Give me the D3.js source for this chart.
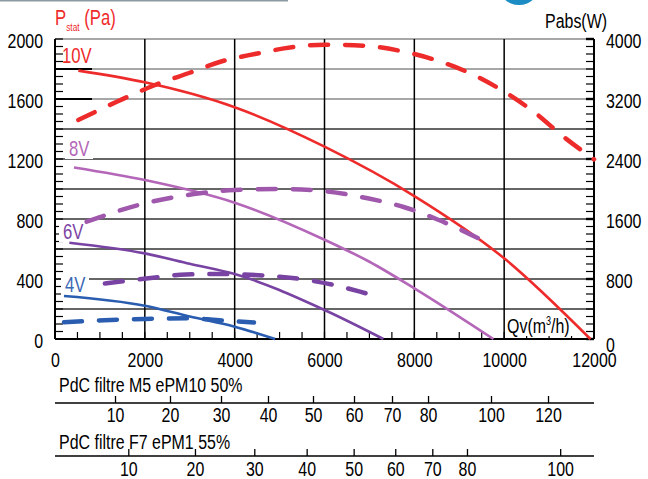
<!DOCTYPE html>
<html>
<head>
<meta charset="utf-8">
<script src="https://cdn.jsdelivr.net/npm/d3@7"></script>
<style>
  body { margin: 0; background: #fff; }
  text { font-family: "Liberation Sans", Arial, sans-serif; }
</style>
</head>
<body>
<svg id="chart" width="648" height="479"></svg>
<script>
// axes ticks
const flowTicks = [0, 2000, 4000, 6000, 8000, 10000, 12000];
const pTicks = [0, 400, 800, 1200, 1600, 2000];
const wTicks = [0, 800, 1600, 2400, 3200, 4000];

// static pressure curves (Pa) vs flow (m3/h)
const q10 = [520, 2000, 4000, 6000, 8000, 10000, 11920];
const p10 = [1789, 1711, 1545, 1282, 953, 538, 0];
const q8 = [423, 2000, 4000, 6000, 7000, 8000, 9760];
const p8 = [1144, 1060, 909, 662, 515, 338, 0];
const q6 = [320, 2000, 3000, 4000, 6000, 7310];
const p6 = [642, 571, 502, 433, 193, 0];
const q4 = [200, 2000, 3000, 4000, 4900];
const p4 = [287, 222, 150, 82, 0];

// absorbed power curves (W)
const qw10 = [520, 1400, 2200, 3000, 3700, 4450, 5270, 6000, 6900, 7700, 8470, 9400, 10000, 10700, 11300, 12000];
const w10 = [2920, 3170, 3380, 3550, 3700, 3800, 3890, 3925, 3910, 3840, 3720, 3498, 3298, 3010, 2707, 2396];
const qw8 = [705, 2000, 3229, 4000, 5000, 5900, 6960, 7760, 8530, 9430];
const w8 = [1564, 1809, 1943, 1987, 2000, 1978, 1876, 1760, 1590, 1342];
const qw6 = [1110, 2080, 2920, 3710, 4530, 5340, 6160, 6790, 7130];
const w6 = [740, 810, 860, 866, 850, 810, 726, 631, 573];
const qw4 = [200, 1100, 2000, 3000, 3600, 4430];
const w4 = [222, 250, 267, 276, 252, 220];

// filter pressure drop scales (Pa -> flow)
const m5Ticks = [10, 20, 30, 40, 50, 60, 70, 80, 100, 120];
const m5Flow = [1336, 2560, 3696, 4742, 5744, 6657, 7503, 8305, 9707, 10976];
const f7Ticks = [10, 20, 30, 40, 50, 60, 70, 80, 100];
const f7Flow = [1632, 3116, 4437, 5603, 6649, 7575, 8400, 9172, 11247];

const svg = d3.select("#chart");

const x = d3.scaleLinear().domain([0, 12000]).range([55, 594]);
const y = d3.scaleLinear().domain([0, 2000]).range([339, 39]);
const yW = d3.scaleLinear().domain([0, 4000]).range([339, 39]);

const fs = 21;
const K = 0.76; // horizontal squeeze to get a condensed look

function narrow(sel) {
  sel.each(function () {
    const t = d3.select(this);
    const x0 = +t.attr("x") || 0;
    t.attr("x", x0 / K).attr("transform", `scale(${K},1)`);
  });
}

// header decoration
svg.append("line").attr("x1", 0).attr("x2", 288).attr("y1", 0.5).attr("y2", 0.5)
  .attr("stroke", "#8c9ba1").attr("stroke-width", 2);
svg.append("circle").attr("cx", 519).attr("cy", -16).attr("r", 21).attr("fill", "#1b8cc4");

// grid
svg.append("g").selectAll("line")
  .data(d3.range(200, 2001, 200))
  .join("line")
  .attr("x1", x(0)).attr("x2", x(12000))
  .attr("y1", d => y(d)).attr("y2", d => y(d))
  .attr("stroke", d => d >= 1600 ? "#8a8a8a" : "#333")
  .attr("stroke-width", 1.6);
svg.append("g").selectAll("line")
  .data([1800, 1600])
  .join("line")
  .attr("x1", x(0)).attr("x2", 92)
  .attr("y1", d => y(d)).attr("y2", d => y(d))
  .attr("stroke", "#000").attr("stroke-width", 2);
svg.append("g").selectAll("line")
  .data(d3.range(2000, 12001, 2000))
  .join("line")
  .attr("x1", d => x(d)).attr("x2", d => x(d))
  .attr("y1", y(0)).attr("y2", y(2000))
  .attr("stroke", "#000").attr("stroke-width", 1.5);

// minor ticks
svg.append("g").selectAll("line")
  .data(d3.range(0, 2001, 50))
  .join("line")
  .attr("x1", x(0)).attr("x2", x(0) + 8)
  .attr("y1", d => y(d)).attr("y2", d => y(d))
  .attr("stroke", "#000").attr("stroke-width", 1.2);
svg.append("g").selectAll("line")
  .data(d3.range(0, 4001, 100))
  .join("line")
  .attr("x1", x(12000) - 8).attr("x2", x(12000))
  .attr("y1", d => yW(d)).attr("y2", d => yW(d))
  .attr("stroke", "#000").attr("stroke-width", d => d % 800 == 0 ? 2.4 : 1.2);
svg.append("g").selectAll("line")
  .data(d3.range(0, 12001, 500))
  .join("line")
  .attr("x1", d => x(d)).attr("x2", d => x(d))
  .attr("y1", y(0)).attr("y2", y(0) - 7)
  .attr("stroke", "#000").attr("stroke-width", 1.2);

// frame
svg.append("line").attr("x1", x(0)).attr("x2", x(0)).attr("y1", y(0)).attr("y2", y(2000))
  .attr("stroke", "#000").attr("stroke-width", 2);
svg.append("line").attr("x1", x(12000)).attr("x2", x(12000)).attr("y1", y(0)).attr("y2", y(2000))
  .attr("stroke", "#000").attr("stroke-width", 2);
svg.append("line").attr("x1", x(0)).attr("x2", x(12000)).attr("y1", y(0)).attr("y2", y(0))
  .attr("stroke", "#000").attr("stroke-width", 2);

// axes labels
const fmt = d3.format("d");
const xAxis = svg.append("g")
  .attr("transform", `translate(0,${y(0)})`)
  .call(d3.axisBottom(x).tickValues(flowTicks).tickFormat(fmt).tickSize(0).tickPadding(13));
const yAxis = svg.append("g")
  .attr("transform", `translate(${x(0)},0)`)
  .call(d3.axisLeft(y).tickValues(pTicks).tickFormat(fmt).tickSize(0).tickPadding(12));
const wAxis = svg.append("g")
  .attr("transform", `translate(${x(12000)},0)`)
  .call(d3.axisRight(yW).tickValues(wTicks).tickFormat(fmt).tickSize(0).tickPadding(12));
[xAxis, yAxis, wAxis].forEach(g => {
  g.select(".domain").remove();
  g.selectAll("text").attr("font-size", fs).attr("fill", "#000");
  narrow(g.selectAll("text"));
});
yAxis.selectAll("text").attr("dy", "0.4em");
wAxis.selectAll("text").attr("dy", "0.4em");
wAxis.selectAll("text").filter(d => d == 0).attr("dy", "0.6em");

// Qv label
svg.append("rect").attr("x", 505).attr("y", 314).attr("width", 72).attr("height", 22).attr("fill", "#fff");
const qv = svg.append("text").attr("x", 507).attr("y", 333).attr("font-size", fs).attr("fill", "#000");
qv.append("tspan").text("Qv(m");
qv.append("tspan").text("3").attr("font-size", 12).attr("dy", -8);
qv.append("tspan").text("/h)").attr("dy", 8);
narrow(qv);

// curve labels
const labels = [
  { t: "10V", x: 62, y: 63, c: "#ee2b2b" },
  { t: "8V", x: 69, y: 156, c: "#b466b8" },
  { t: "6V", x: 63, y: 239, c: "#7d45a5" },
  { t: "4V", x: 65, y: 292, c: "#3d68b6" }
];
labels.slice(1).forEach(l => {
  svg.append("rect").attr("x", l.x - 4).attr("y", l.y - 18).attr("width", 28).attr("height", 21).attr("fill", "#fff");
});
labels.forEach(l => {
  const t = svg.append("text").attr("x", l.x).attr("y", l.y).attr("font-size", 22).attr("fill", l.c).text(l.t);
  narrow(t);
});

// curves
const line = d3.line().curve(d3.curveMonotoneX);
const series = [
  { q: q10, v: p10, s: y, c: "#ee2b2b", dash: false },
  { q: q8, v: p8, s: y, c: "#b466b8", dash: false },
  { q: q6, v: p6, s: y, c: "#7843a2", dash: false },
  { q: q4, v: p4, s: y, c: "#2a5cb0", dash: false },
  { q: qw10, v: w10, s: yW, c: "#ee2b2b", dash: true },
  { q: qw8, v: w8, s: yW, c: "#a058ac", dash: true },
  { q: qw6, v: w6, s: yW, c: "#7843a2", dash: true },
  { q: qw4, v: w4, s: yW, c: "#2a5cb0", dash: true }
];
series.forEach(sr => {
  svg.append("path")
    .attr("d", line(sr.q.map((q, i) => [x(q), sr.s(sr.v[i])])))
    .attr("fill", "none")
    .attr("stroke", sr.c)
    .attr("stroke-width", sr.dash ? 4.5 : 2.6)
    .attr("stroke-dasharray", sr.dash ? "18 17" : null)
    .attr("stroke-linecap", sr.dash ? "round" : "butt");
});

// axis titles
const pt = svg.append("text").attr("x", 55).attr("y", 25).attr("font-size", 22).attr("fill", "#ee2b2b");
pt.append("tspan").text("P");
pt.append("tspan").text("stat").attr("font-size", 11).attr("dy", 6);
pt.append("tspan").text(" (Pa)").attr("dy", -6);
narrow(pt);
narrow(svg.append("text").attr("x", 545).attr("y", 28).attr("font-size", fs).attr("fill", "#000").text("Pabs(W)"));

// filter scales
function filterAxis(ticks, flows, lineY, textY, title, pad) {
  const fx = d3.scaleLinear().domain(ticks).range(flows.map(f => x(f)));
  narrow(svg.append("text").attr("x", 59).attr("y", textY).attr("font-size", fs).attr("fill", "#000").text(title));
  svg.append("line").attr("x1", x(0)).attr("x2", x(12000)).attr("y1", lineY).attr("y2", lineY)
    .attr("stroke", "#000").attr("stroke-width", 1.5);
  const g = svg.append("g").attr("transform", `translate(0,${lineY})`)
    .call(d3.axisBottom(fx).tickValues(ticks).tickSizeInner(-7).tickSizeOuter(0).tickPadding(pad));
  g.select(".domain").remove();
  g.selectAll("line").attr("stroke-width", 1.3);
  g.selectAll("text").attr("font-size", fs).attr("fill", "#000");
  narrow(g.selectAll("text"));
}
filterAxis(m5Ticks, m5Flow, 403, 392, "PdC filtre M5 ePM10 50%", 4);
filterAxis(f7Ticks, f7Flow, 456, 449, "PdC filtre F7 ePM1 55%", 5);
</script>
</body>
</html>
